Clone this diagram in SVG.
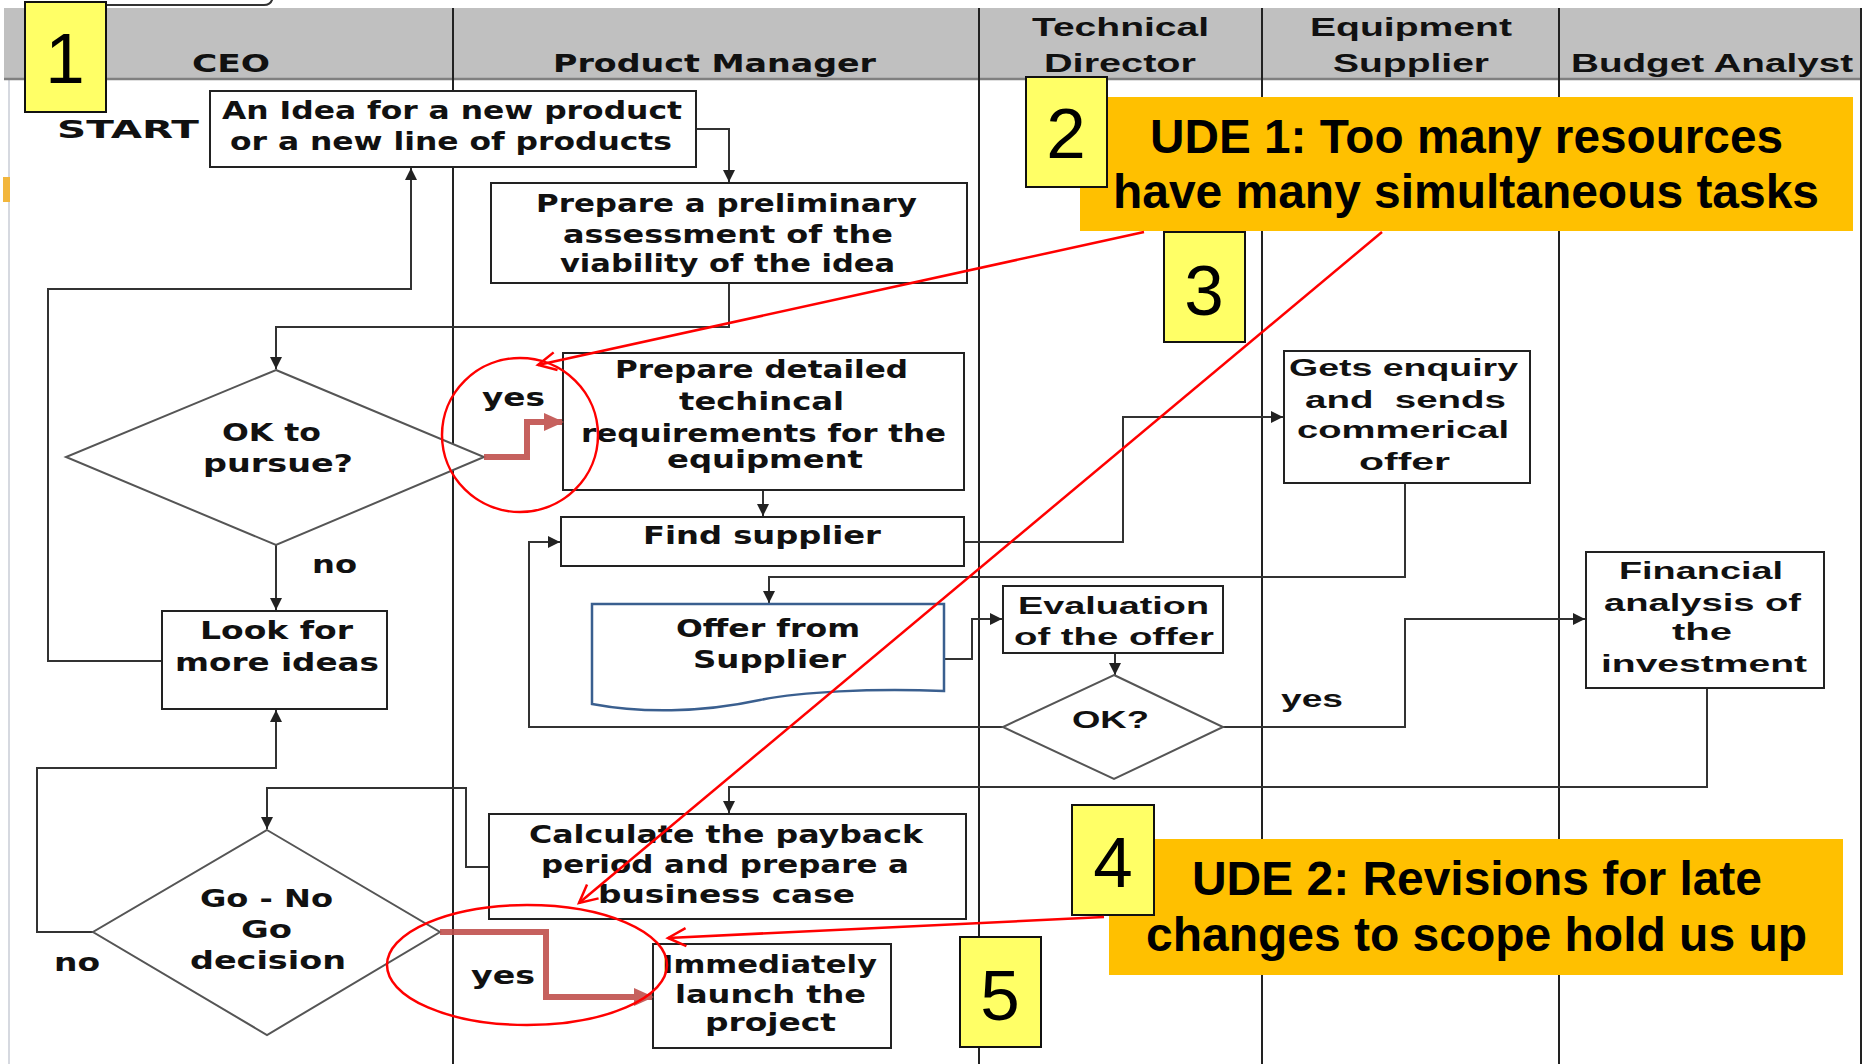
<svg xmlns="http://www.w3.org/2000/svg" width="1865" height="1064" viewBox="0 0 1865 1064">
<defs>
<style>
.box{fill:#fff;stroke:#222;stroke-width:2}
.dia{fill:#fff;stroke:#555;stroke-width:2}
.t{font-family:"DejaVu Sans",Verdana,sans-serif;font-weight:bold;font-size:24px;fill:#111}
.a{font-family:"Liberation Sans",Arial,sans-serif;font-weight:bold;font-size:23px;fill:#111}
.h{font-family:"Liberation Sans",Arial,sans-serif;font-weight:bold;font-size:25px;fill:#111}
.conn{fill:none;stroke:#333;stroke-width:2}
.red{stroke:#f00;stroke-width:2.5;fill:none}
.thick{stroke:#C0504D;stroke-width:6;fill:none;opacity:0.9}
.num{fill:#FFFF66;stroke:#111;stroke-width:2}
.numt{font-family:"Liberation Sans",Arial,sans-serif;font-size:71px;text-anchor:middle;fill:#000}
.ude{fill:#FFC000}
.udet{font-family:"Liberation Sans",Arial,sans-serif;font-weight:bold;font-size:48px;fill:#000}
.col{stroke:#222;stroke-width:2}
</style>
<marker id="ab" markerUnits="userSpaceOnUse" viewBox="0 0 12 12" refX="12" refY="6" markerWidth="12" markerHeight="12" orient="auto"><path d="M0,0 L12,6 L0,12 z" fill="#222"/></marker>
<marker id="ar" markerUnits="userSpaceOnUse" viewBox="0 0 20 18" refX="18" refY="9" markerWidth="20" markerHeight="18" orient="auto"><path d="M0,0 L20,9 L0,18 z" fill="#C0504D"/></marker>
<marker id="ao" markerUnits="userSpaceOnUse" viewBox="0 0 22 22" refX="20" refY="11" markerWidth="22" markerHeight="22" orient="auto" overflow="visible"><path d="M2,2 L20,11 L2,20" fill="none" stroke="#f00" stroke-width="2.5"/></marker>
</defs>
<rect width="1865" height="1064" fill="#fff"/>
<!-- left spreadsheet edge -->
<g id="sheet-edge">
<line x1="9" y1="80" x2="9" y2="1064" stroke="#C8CDD6" stroke-width="1.5"/>
<rect x="3" y="177" width="7" height="25" fill="#F2B63C"/>
</g>
<path d="M106,5 H264 Q272,5 273,-4" stroke="#333" stroke-width="2" fill="none"/>
<!-- header -->
<g id="header">
<rect x="4" y="8" width="1858" height="71" fill="#C0C0C0"/>
<line x1="4" y1="79" x2="1862" y2="79" stroke="#808080" stroke-width="2.5"/>
<text class="t" x="192" y="72" font-size="26" textLength="78" lengthAdjust="spacingAndGlyphs">CEO</text>
<text class="t" x="553" y="72" font-size="26" textLength="323" lengthAdjust="spacingAndGlyphs">Product Manager</text>
<text class="h" x="1032" y="36" textLength="177" lengthAdjust="spacingAndGlyphs">Technical</text>
<text class="h" x="1044" y="72" textLength="152" lengthAdjust="spacingAndGlyphs">Director</text>
<text class="h" x="1310" y="36" textLength="202" lengthAdjust="spacingAndGlyphs">Equipment</text>
<text class="h" x="1333" y="72" textLength="156" lengthAdjust="spacingAndGlyphs">Supplier</text>
<text class="h" x="1571" y="72" textLength="282" lengthAdjust="spacingAndGlyphs">Budget Analyst</text>
</g>
<g id="lanes">
<line class="col" x1="453" y1="8" x2="453" y2="1064"/>
<line class="col" x1="979" y1="8" x2="979" y2="1064"/>
<line class="col" x1="1262" y1="8" x2="1262" y2="1064"/>
<line class="col" x1="1559" y1="8" x2="1559" y2="1064"/>
<line class="col" x1="1861" y1="8" x2="1861" y2="1064"/>
</g>
<!-- connectors -->
<g id="connectors">
<path class="conn" d="M696,129 H729 V182" marker-end="url(#ab)"/>
<path class="conn" d="M729,283 V327 H276 V369" marker-end="url(#ab)"/>
<path class="conn" d="M276,545 V610" marker-end="url(#ab)"/>
<path class="conn" d="M162,661 H48 V289 H411 V168" marker-end="url(#ab)"/>
<path class="conn" d="M763,490 V516" marker-end="url(#ab)"/>
<path class="conn" d="M964,542 H1123 V417 H1283" marker-end="url(#ab)"/>
<path class="conn" d="M1405,483 V577 H769 V603" marker-end="url(#ab)"/>
<path class="conn" d="M944,659 H972 V619 H1002" marker-end="url(#ab)"/>
<path class="conn" d="M1115,653 V675" marker-end="url(#ab)"/>
<path class="conn" d="M1003,727 H529 V542 H560" marker-end="url(#ab)"/>
<path class="conn" d="M1223,727 H1405 V619 H1585" marker-end="url(#ab)"/>
<path class="conn" d="M1707,688 V787 H729 V813" marker-end="url(#ab)"/>
<path class="conn" d="M489,867 H466 V788 H267 V829" marker-end="url(#ab)"/>
<path class="conn" d="M93,932 H37 V768 H276 V710" marker-end="url(#ab)"/>
</g>
<!-- nodes -->
<g id="start"><text class="t" x="57" y="138" font-size="30" textLength="142" lengthAdjust="spacingAndGlyphs">START</text></g>
<g id="idea">
<rect class="box" x="210" y="91" width="486" height="76"/>
<text class="t" x="222" y="119" font-size="26" textLength="460" lengthAdjust="spacingAndGlyphs">An Idea for a new product</text>
<text class="t" x="230" y="150" font-size="26" textLength="442" lengthAdjust="spacingAndGlyphs">or a new line of products</text>
</g>
<g id="prelim">
<rect class="box" x="491" y="183" width="476" height="100"/>
<text class="t" x="536" y="212" textLength="381" lengthAdjust="spacingAndGlyphs">Prepare a preliminary</text>
<text class="t" x="563" y="243" textLength="330" lengthAdjust="spacingAndGlyphs">assessment of the</text>
<text class="t" x="560" y="272" textLength="335" lengthAdjust="spacingAndGlyphs">viability of the idea</text>
</g>
<g id="ok-pursue">
<polygon class="dia" points="276,370 484,457 276,545 66,457"/>
<text class="t" x="222" y="441" textLength="99" lengthAdjust="spacingAndGlyphs">OK to</text>
<text class="t" x="203" y="472" textLength="150" lengthAdjust="spacingAndGlyphs">pursue?</text>
</g>
<g id="detailed">
<rect class="box" x="563" y="353" width="401" height="137"/>
<text class="t" x="615" y="378" textLength="293" lengthAdjust="spacingAndGlyphs">Prepare detailed</text>
<text class="t" x="679" y="410" textLength="165" lengthAdjust="spacingAndGlyphs">techincal</text>
<text class="t" x="581" y="442" textLength="365" lengthAdjust="spacingAndGlyphs">requirements for the</text>
<text class="t" x="667" y="468" textLength="196" lengthAdjust="spacingAndGlyphs">equipment</text>
</g>
<g id="look">
<rect class="box" x="162" y="611" width="225" height="98"/>
<text class="t" x="200" y="639" textLength="153" lengthAdjust="spacingAndGlyphs">Look for</text>
<text class="t" x="175" y="671" textLength="204" lengthAdjust="spacingAndGlyphs">more ideas</text>
</g>
<g id="find">
<rect class="box" x="561" y="517" width="403" height="49"/>
<text class="t" x="643" y="544" font-size="25" textLength="238" lengthAdjust="spacingAndGlyphs">Find supplier</text>
</g>
<g id="gets">
<rect class="box" x="1284" y="351" width="246" height="132"/>
<text class="a" x="1289" y="376" textLength="229" lengthAdjust="spacingAndGlyphs">Gets enquiry</text>
<text class="a" x="1305" y="408" textLength="201" lengthAdjust="spacingAndGlyphs" xml:space="preserve">and  sends</text>
<text class="a" x="1297" y="438" textLength="212" lengthAdjust="spacingAndGlyphs">commerical</text>
<text class="a" x="1359" y="470" textLength="91" lengthAdjust="spacingAndGlyphs">offer</text>
</g>
<g id="offer">
<path d="M592,604 H944 V691 C870,688 800,692 760,700 C700,713 640,713 592,704 Z" fill="#fff" stroke="#3A5F8F" stroke-width="2.5"/>
<text class="t" x="676" y="637" textLength="184" lengthAdjust="spacingAndGlyphs">Offer from</text>
<text class="t" x="693" y="668" textLength="153" lengthAdjust="spacingAndGlyphs">Supplier</text>
</g>
<g id="evaluation">
<rect class="box" x="1003" y="586" width="220" height="67"/>
<text class="a" x="1018" y="614" font-size="24" textLength="191" lengthAdjust="spacingAndGlyphs">Evaluation</text>
<text class="a" x="1014" y="645" font-size="24" textLength="200" lengthAdjust="spacingAndGlyphs">of the offer</text>
</g>
<g id="ok">
<polygon class="dia" points="1114,675 1223,727 1114,779 1003,727"/>
<text class="a" x="1072" y="728" font-size="24" textLength="77" lengthAdjust="spacingAndGlyphs">OK?</text>
</g>
<g id="financial">
<rect class="box" x="1586" y="552" width="238" height="136"/>
<text class="a" x="1619" y="579" textLength="164" lengthAdjust="spacingAndGlyphs">Financial</text>
<text class="a" x="1604" y="611" textLength="197" lengthAdjust="spacingAndGlyphs">analysis of</text>
<text class="a" x="1672" y="640" textLength="60" lengthAdjust="spacingAndGlyphs">the</text>
<text class="a" x="1601" y="672" textLength="206" lengthAdjust="spacingAndGlyphs">investment</text>
</g>
<g id="calculate">
<rect class="box" x="489" y="814" width="477" height="105"/>
<text class="t" x="529" y="843" textLength="394" lengthAdjust="spacingAndGlyphs">Calculate the payback</text>
<text class="t" x="541" y="873" textLength="368" lengthAdjust="spacingAndGlyphs">period and prepare a</text>
<text class="t" x="598" y="903" textLength="257" lengthAdjust="spacingAndGlyphs">business case</text>
</g>
<g id="gonogo">
<polygon class="dia" points="267,830 440,932 267,1035 93,932"/>
<text class="t" x="200" y="907" textLength="133" lengthAdjust="spacingAndGlyphs">Go - No</text>
<text class="t" x="241" y="938" textLength="51" lengthAdjust="spacingAndGlyphs">Go</text>
<text class="t" x="190" y="969" textLength="156" lengthAdjust="spacingAndGlyphs">decision</text>
</g>
<g id="launch">
<rect class="box" x="653" y="944" width="238" height="104"/>
<text class="t" x="662" y="973" textLength="215" lengthAdjust="spacingAndGlyphs">Immediately</text>
<text class="t" x="675" y="1003" textLength="191" lengthAdjust="spacingAndGlyphs">launch the</text>
<text class="t" x="705" y="1031" textLength="131" lengthAdjust="spacingAndGlyphs">project</text>
</g>
<g id="labels">
<text class="t" x="312" y="573" textLength="45" lengthAdjust="spacingAndGlyphs">no</text>
<text class="t" x="54" y="971" textLength="46" lengthAdjust="spacingAndGlyphs">no</text>
<text class="t" x="482" y="406" textLength="63" lengthAdjust="spacingAndGlyphs">yes</text>
<text class="t" x="471" y="984" textLength="64" lengthAdjust="spacingAndGlyphs">yes</text>
<text class="a" x="1281" y="707" font-size="24" textLength="62" lengthAdjust="spacingAndGlyphs">yes</text>
</g>
<!-- highlighted yes paths -->
<g id="highlight">
<path class="thick" d="M484,457 H527 V422 H562" marker-end="url(#ar)"/>
<path class="thick" d="M440,932 H546 V997 H652" marker-end="url(#ar)"/>
<ellipse class="red" cx="520" cy="435" rx="78" ry="77"/>
<ellipse class="red" cx="527" cy="965" rx="140" ry="60"/>
</g>
<g id="ude1">
<rect class="ude" x="1080" y="97" width="773" height="134"/>
<text class="udet" x="1150" y="153" textLength="633" lengthAdjust="spacingAndGlyphs">UDE 1: Too many resources</text>
<text class="udet" x="1113" y="208" textLength="706" lengthAdjust="spacingAndGlyphs">have many simultaneous tasks</text>
</g>
<g id="ude2">
<rect class="ude" x="1109" y="839" width="734" height="136"/>
<text class="udet" x="1192" y="895" textLength="570" lengthAdjust="spacingAndGlyphs">UDE 2: Revisions for late</text>
<text class="udet" x="1146" y="951" textLength="661" lengthAdjust="spacingAndGlyphs">changes to scope hold us up</text>
</g>
<g id="numbers">
<rect class="num" x="25" y="2" width="81" height="110"/><text class="numt" x="65" y="83">1</text>
<rect class="num" x="1026" y="77" width="81" height="110"/><text class="numt" x="1066" y="158">2</text>
<rect class="num" x="1164" y="232" width="81" height="110"/><text class="numt" x="1204" y="315">3</text>
<rect class="num" x="1072" y="805" width="82" height="110"/><text class="numt" x="1113" y="887">4</text>
<rect class="num" x="960" y="937" width="81" height="110"/><text class="numt" x="1000" y="1020">5</text>
</g>
<g id="ude-arrows">
<line class="red" x1="1144" y1="232" x2="538" y2="365" marker-end="url(#ao)"/>
<line class="red" x1="1382" y1="232" x2="579" y2="903" marker-end="url(#ao)"/>
<line class="red" x1="1104" y1="917" x2="668" y2="938" marker-end="url(#ao)"/>
</g>
</svg>
